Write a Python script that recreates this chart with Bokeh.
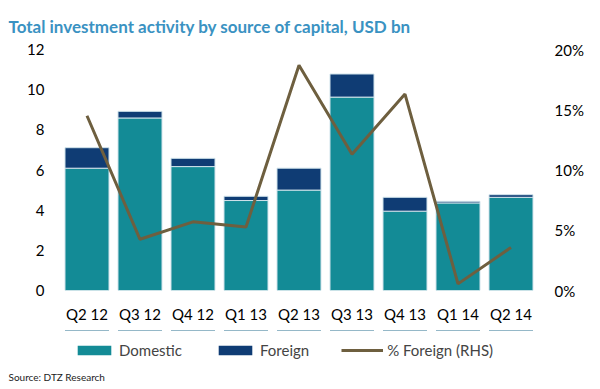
from bokeh.plotting import figure
from bokeh.layouts import column
from bokeh.models import (FactorRange, Range1d, LinearAxis, NumeralTickFormatter,
                          Legend, LegendItem, Title, FixedTicker)
from bokeh.embed import file_html
from bokeh.resources import INLINE

quarters = ["Q2 12", "Q3 12", "Q4 12", "Q1 13", "Q2 13", "Q3 13", "Q4 13", "Q1 14", "Q2 14"]
domestic = [6.09, 8.59, 6.17, 4.48, 5.00, 9.63, 3.95, 4.36, 4.64]
foreign = [1.02, 0.33, 0.41, 0.21, 1.09, 1.15, 0.69, 0.08, 0.13]
pct_foreign = [0.145, 0.0425, 0.057, 0.0527, 0.187, 0.113, 0.163, 0.0055, 0.0357]

FONT = "Lato"
C_DOM = "#138B96"
C_FOR = "#0F3C74"
C_LINE = "#6E5F3F"

# ---------------- main chart ----------------
p = figure(width=600, height=330, x_range=FactorRange(*quarters, range_padding=0),
           y_range=Range1d(0, 12), output_backend="svg", toolbar_location=None,
           min_border_left=60, min_border_right=63, min_border_top=47,
           min_border_bottom=40)
p.outline_line_color = None
p.grid.visible = False

data = dict(q=quarters, Domestic=domestic, Foreign=foreign, pct=pct_foreign)
rs = p.vbar_stack(["Domestic", "Foreign"], x="q", width=0.83, source=data,
                  color=[C_DOM, C_FOR], line_color="#cfe2ea", line_width=1)

p.extra_y_ranges = {"pct": Range1d(0, 0.20)}
ln = p.line(x="q", y="pct", source=data, y_range_name="pct", line_color=C_LINE,
            line_width=3)

right = LinearAxis(y_range_name="pct", formatter=NumeralTickFormatter(format="0%"),
                   ticker=FixedTicker(ticks=[0, 0.05, 0.10, 0.15, 0.20]))
p.add_layout(right, "right")

p.yaxis[0].ticker = FixedTicker(ticks=[0, 2, 4, 6, 8, 10, 12])
for ax in [p.xaxis[0], p.yaxis[0], right]:
    ax.axis_line_color = None
    ax.major_tick_line_color = None
    ax.minor_tick_line_color = None
    ax.major_tick_out = 0
    ax.major_tick_in = 0
    ax.major_label_text_font = FONT
    ax.major_label_text_font_size = "15px"
    ax.major_label_text_color = "#000000"
p.xaxis[0].major_label_standoff = 14
p.yaxis[0].major_label_standoff = 16
right.major_label_standoff = 17

title = Title(text="Total investment activity by source of capital, USD bn",
              text_font=FONT, text_font_size="17px", text_font_style="bold",
              text_color="#3A92C2", align="left", offset=-52, standoff=26)
p.add_layout(title, "above")

# ---------------- legend + source strip ----------------
# same series drawn off-view, only so the legend has glyphs to show
q = figure(width=600, height=59, x_range=FactorRange(*quarters, range_padding=0),
           y_range=Range1d(-20, -10), output_backend="svg", toolbar_location=None,
           x_axis_type=None, y_axis_type=None, min_border_left=60,
           min_border_right=63, min_border_top=0, min_border_bottom=22)
q.outline_line_color = None
q.grid.visible = False
q.extra_y_ranges = {"pct": Range1d(-2, -1)}
g = q.vbar_stack(["Domestic", "Foreign"], x="q", width=0.83, source=dict(data),
                 color=[C_DOM, C_FOR], line_color=None)
g_ln = q.line(x="q", y="pct", source=dict(data), y_range_name="pct",
              line_color=C_LINE, line_width=3)

legend = Legend(items=[LegendItem(label="Domestic", renderers=[g[0]]),
                       LegendItem(label="Foreign", renderers=[g[1]]),
                       LegendItem(label="% Foreign (RHS)", renderers=[g_ln])],
                orientation="horizontal", location=(13, 8),
                glyph_width=42, glyph_height=12, label_standoff=4, spacing=32,
                label_text_font=FONT, label_text_font_size="15px",
                border_line_color=None, padding=0, margin=0,
                background_fill_alpha=0)
q.add_layout(legend, "center")

src = Title(text="Source: DTZ Research", text_font=FONT, text_font_size="10px",
            text_font_style="normal", align="left", offset=-52, standoff=2,
            text_color="#222222")
q.add_layout(src, "below")

layout = column(p, q, spacing=0)
open("out.html", "w").write(file_html(layout, INLINE))
